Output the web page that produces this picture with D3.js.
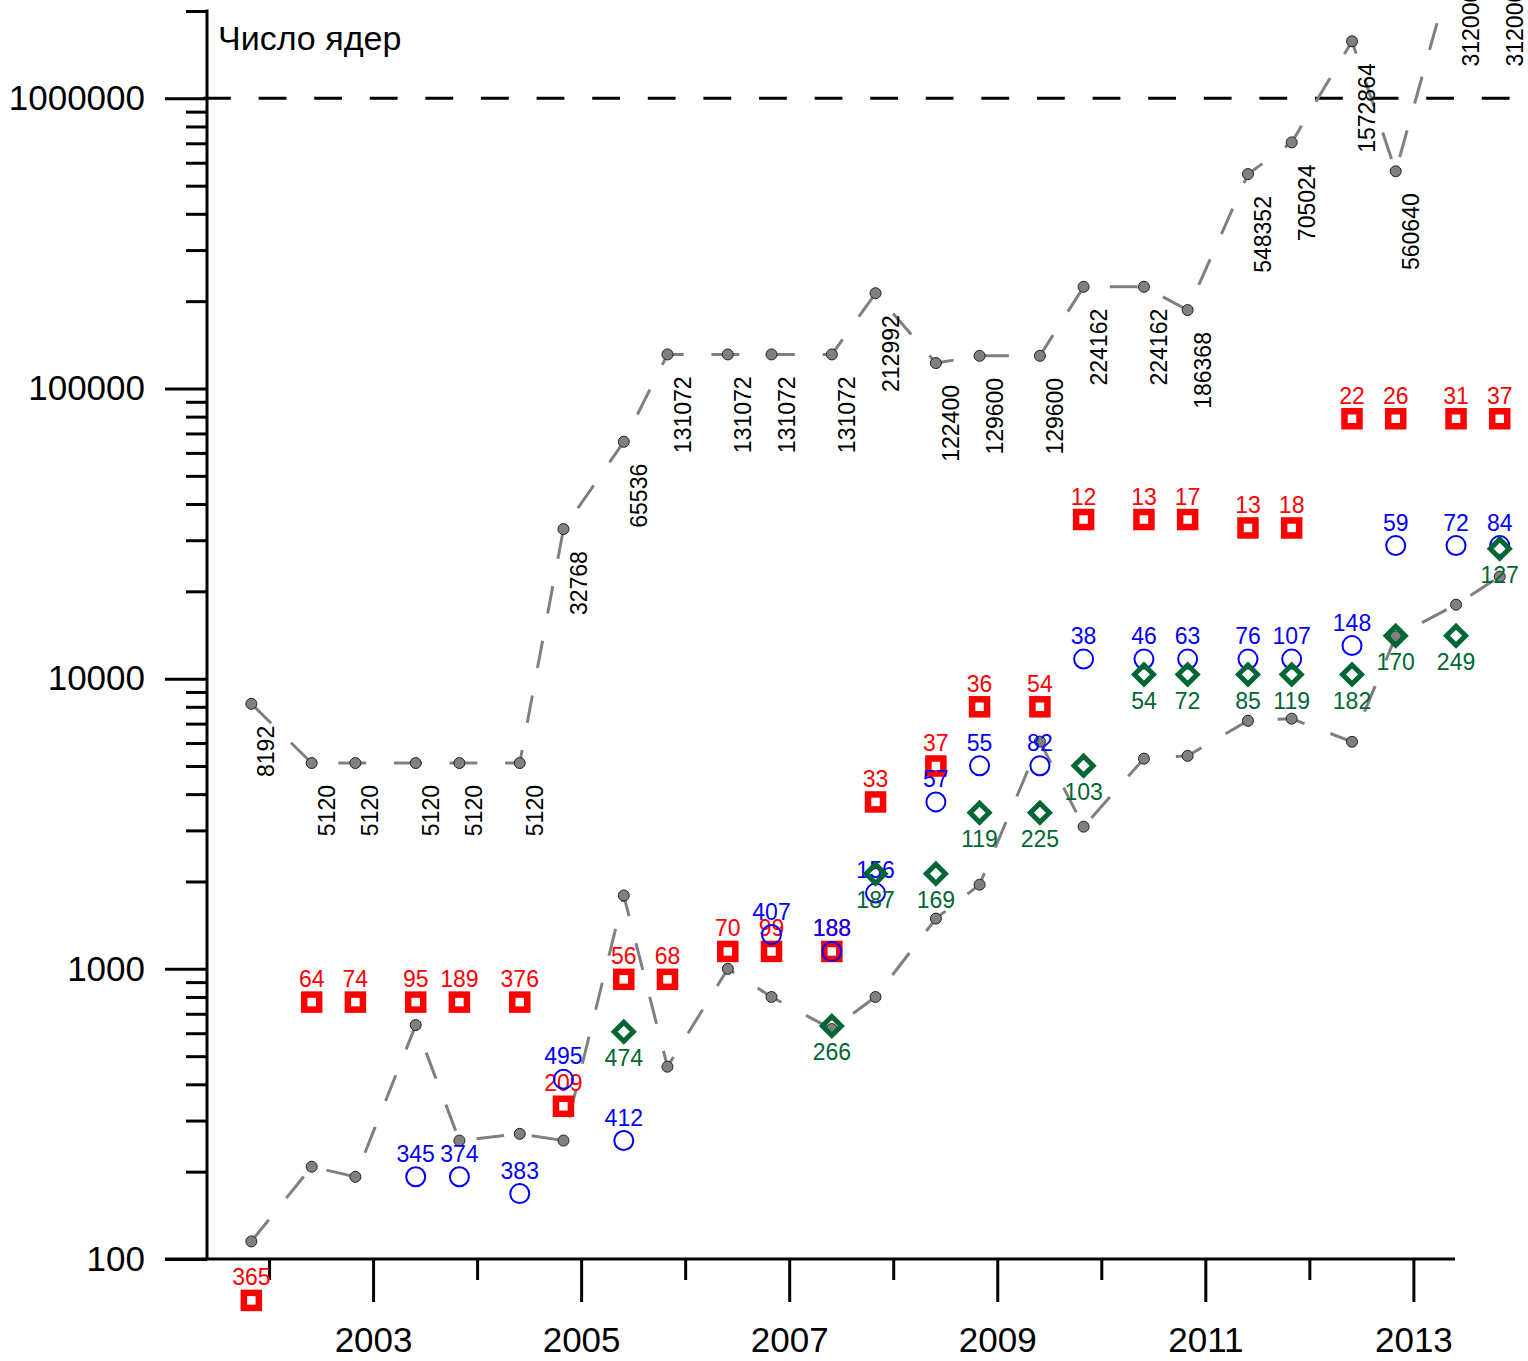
<!DOCTYPE html>
<html>
<head>
<meta charset="utf-8">
<script src="https://cdn.jsdelivr.net/npm/d3@7"></script>
<style>
  html, body { margin: 0; padding: 0; background: #fff; }
  svg { display: block; }
  text { font-family: "Liberation Sans", Arial, sans-serif; }
</style>
</head>
<body>
<svg id="chart" width="1528" height="1361"></svg>
<script>
// ---- data ----
// TOP500 list dates (June ≈ .41, November ≈ .83)
const listTimes = [2001.83, 2002.41, 2002.83, 2003.41, 2003.83, 2004.41, 2004.83, 2005.41, 2005.83,
  2006.41, 2006.83, 2007.41, 2007.83, 2008.41, 2008.83, 2009.41, 2009.83, 2010.41, 2010.83,
  2011.41, 2011.83, 2012.41, 2012.83, 2013.41, 2013.83];

// upper grey series (labelled with its value)
const topCores = [8192, 5120, 5120, 5120, 5120, 5120, 32768, 65536, 131072, 131072, 131072, 131072,
  212992, 122400, 129600, 129600, 224162, 224162, 186368, 548352, 705024, 1572864, 560640, 3120000, 3120000];

// lower grey series (unlabelled)
const lowCores = [115, 208, 192, 640, 256, 270, 256, 1790, 460, 1000, 800, 620, 800, 1490, 1950,
  6070, 3090, 5300, 5420, 7160, 7280, 6060, 13960, 17990, 22490];

// red squares: cores and rank label
const redTimes = listTimes;
const redCores = [72, 768, 768, 768, 768, 768, 336, 920, 920, 1148, 1148, 1148, 3760, 5000, 8000, 8000,
  35360, 35360, 35360, 33072, 33072, 78660, 78660, 78660, 78660];
const redRanks = [365, 64, 74, 95, 189, 376, 209, 56, 68, 70, 99, 188, 33, 37, 36, 54, 12, 13, 17, 13, 18, 22, 26, 31, 37];

// blue circles
const blueTimes = [2003.41, 2003.83, 2004.41, 2004.83, 2005.41, 2006.83, 2007.41, 2007.83, 2008.41, 2008.83,
  2009.41, 2009.83, 2010.41, 2010.83, 2011.41, 2011.83, 2012.41, 2012.83, 2013.41, 2013.83];
const blueCores = [192, 192, 168, 416, 256, 1312, 1148, 1824, 3760, 5008, 5008, 11680, 11680, 11680, 11680,
  11680, 13000, 28760, 28760, 28760];
const blueRanks = [345, 374, 383, 495, 412, 407, 188, 156, 57, 55, 82, 38, 46, 63, 76, 107, 148, 59, 72, 84];

// green diamonds
const greenTimes = [2005.41, 2007.41, 2007.83, 2008.41, 2008.83, 2009.41, 2009.83, 2010.41, 2010.83,
  2011.41, 2011.83, 2012.41, 2012.83, 2013.41, 2013.83];
const greenCores = [607, 635, 2128, 2128, 3450, 3450, 5012, 10330, 10330, 10330, 10330, 10330, 14060, 14060, 28060];
const greenRanks = [474, 266, 187, 169, 119, 225, 103, 54, 72, 85, 119, 182, 170, 249, 127];

const yTickValues = [100, 1000, 10000, 100000, 1000000];
const xLabelYears = [2003, 2005, 2007, 2009, 2011, 2013];
const xMinorYears = [2002, 2004, 2006, 2008, 2010, 2012];
const refLine = 1000000;
const titleText = "Число ядер";

// ---- scales ----
const svg = d3.select("#chart");
const x = d3.scaleLinear().domain([2001, 2013.4]).range([165, 1455]);
const y = d3.scaleLog().domain([100, 2000000]).range([1259, 11]);
const yAxisX = 207;

const RED = "#ff0000", BLUE = "#0000ff", GREEN = "#006633", GREY = "#808080";
const labelFont = "23px";
const axisFont = "35px";

// ---- axes ----
// y axis
const minorY = [];
for (let e = 2; e <= 6; e++) for (let m = 2; m <= 9; m++) {
  const v = m * Math.pow(10, e);
  if (v <= 2000000) minorY.push(v);
}
const yMajor = d3.axisLeft(y).tickValues(yTickValues).tickSize(42).tickFormat(d3.format("d")).tickPadding(20);
const gY = svg.append("g").attr("transform", `translate(${yAxisX},0)`).call(yMajor);
gY.select(".domain").remove();
gY.selectAll(".tick line").attr("stroke", "#000").attr("stroke-width", 3);
gY.selectAll(".tick text").attr("font-size", axisFont).attr("fill", "#000")
  .attr("font-family", "'Liberation Sans', Arial, sans-serif");
const gYm = svg.append("g").attr("transform", `translate(${yAxisX},0)`)
  .call(d3.axisLeft(y).tickValues(minorY).tickSize(21).tickFormat(""));
gYm.select(".domain").remove();
gYm.selectAll(".tick line").attr("stroke", "#000").attr("stroke-width", 3);
svg.append("line").attr("x1", yAxisX).attr("x2", yAxisX)
  .attr("y1", y(2000000) - 1.5).attr("y2", y(100))
  .attr("stroke", "#000").attr("stroke-width", 3);

// x axis
const gX = svg.append("g").attr("transform", `translate(0,${y(100)})`)
  .call(d3.axisBottom(x).tickValues(xLabelYears).tickSize(43).tickFormat(d3.format("d")).tickPadding(25));
gX.select(".domain").remove();
gX.selectAll(".tick line").attr("stroke", "#000").attr("stroke-width", 3);
gX.selectAll(".tick text").attr("font-size", axisFont).attr("fill", "#000")
  .attr("font-family", "'Liberation Sans', Arial, sans-serif");
const gXm = svg.append("g").attr("transform", `translate(0,${y(100)})`)
  .call(d3.axisBottom(x).tickValues(xMinorYears).tickSize(21).tickFormat(""));
gXm.select(".domain").remove();
gXm.selectAll(".tick line").attr("stroke", "#000").attr("stroke-width", 3);
svg.append("line").attr("x1", 165).attr("x2", 1455)
  .attr("y1", y(100)).attr("y2", y(100))
  .attr("stroke", "#000").attr("stroke-width", 3);

// reference line at 1 000 000
svg.append("line").attr("x1", 203).attr("x2", 1510)
  .attr("y1", y(refLine)).attr("y2", y(refLine))
  .attr("stroke", "#000").attr("stroke-width", 3).attr("stroke-dasharray", "27.8,27.8");

// title
svg.append("text").attr("x", 218).attr("y", 50).attr("font-size", "34px").attr("fill", "#000").text(titleText);

// ---- grey series ----
const line = d3.line().x(d => x(d[0])).y(d => y(d[1]));
function greySeries(times, vals) {
  const pts = times.map((t, i) => [t, vals[i]]);
  svg.append("path").attr("d", line(pts)).attr("fill", "none")
    .attr("stroke", GREY).attr("stroke-width", 3).attr("stroke-dasharray", "27.8,27.8");
  svg.append("g").selectAll("circle").data(pts).join("circle")
    .attr("cx", d => x(d[0])).attr("cy", d => y(d[1])).attr("r", 5.5)
    .attr("fill", GREY).attr("stroke", "#222").attr("stroke-width", 1);
  return pts;
}
const topPts = greySeries(listTimes, topCores);
greySeries(listTimes, lowCores);
svg.append("g").selectAll("text").data(topPts).join("text")
  .attr("transform", d => `translate(${x(d[0]) + 15},${y(d[1]) + 22}) rotate(-90)`)
  .attr("text-anchor", "end").attr("dy", "0.35em")
  .attr("font-size", labelFont).attr("fill", "#000")
  .text(d => d3.format("d")(d[1]));

// ---- red squares ----
const redData = redTimes.map((t, i) => ({ t, v: redCores[i], r: redRanks[i] }));
const gR = svg.append("g");
gR.selectAll("rect").data(redData).join("rect")
  .attr("x", d => x(d.t) - 7.5).attr("y", d => y(d.v) - 7.5)
  .attr("width", 15).attr("height", 15)
  .attr("fill", "none").attr("stroke", RED).attr("stroke-width", 6.5);
gR.selectAll("text").data(redData).join("text")
  .attr("x", d => x(d.t)).attr("y", d => y(d.v) - 15)
  .attr("text-anchor", "middle").attr("font-size", labelFont).attr("fill", RED)
  .text(d => d.r);

// ---- blue circles ----
const blueData = blueTimes.map((t, i) => ({ t, v: blueCores[i], r: blueRanks[i] }));
const gB = svg.append("g");
gB.selectAll("circle").data(blueData).join("circle")
  .attr("cx", d => x(d.t)).attr("cy", d => y(d.v)).attr("r", 9.5)
  .attr("fill", "none").attr("stroke", BLUE).attr("stroke-width", 2);
gB.selectAll("text").data(blueData).join("text")
  .attr("x", d => x(d.t)).attr("y", d => y(d.v) - 15)
  .attr("text-anchor", "middle").attr("font-size", labelFont).attr("fill", BLUE)
  .text(d => d.r);

// ---- green diamonds ----
const greenData = greenTimes.map((t, i) => ({ t, v: greenCores[i], r: greenRanks[i] }));
const gG = svg.append("g");
const dS = 9.5;
gG.selectAll("path").data(greenData).join("path")
  .attr("d", d => {
    const cx = x(d.t), cy = y(d.v);
    return `M${cx},${cy - dS}L${cx + dS},${cy}L${cx},${cy + dS}L${cx - dS},${cy}Z`;
  })
  .attr("fill", "none").attr("stroke", GREEN).attr("stroke-width", 5);
gG.selectAll("text").data(greenData).join("text")
  .attr("x", d => x(d.t)).attr("y", d => y(d.v) + 34)
  .attr("text-anchor", "middle").attr("font-size", labelFont).attr("fill", GREEN)
  .text(d => d.r);
</script>
</body>
</html>
